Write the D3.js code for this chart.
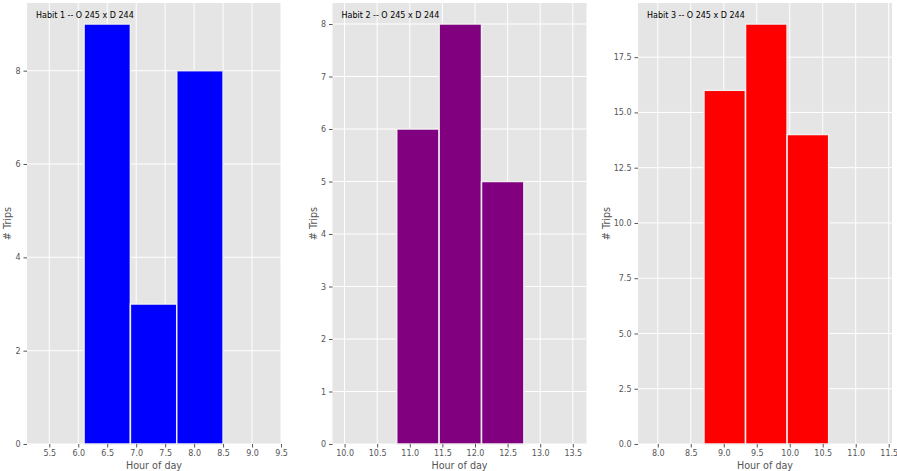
<!DOCTYPE html>
<html>
<head>
<meta charset="utf-8">
<script src="https://cdn.jsdelivr.net/npm/d3@7"></script>
<style>
  body { margin: 0; background: #fff; }
  svg { font-family: 'DejaVu Sans', sans-serif; }
</style>
</head>
<body>
<div id="chart"></div>
<script>
// panel titles
const titles = [
  'Habit 1 -- O 245 x D 244',
  'Habit 2 -- O 245 x D 244',
  'Habit 3 -- O 245 x D 244',
];

// histogram bin edges (hour of day) and trip counts
const edges1 = [6.1, 6.9, 7.7, 8.5];
const counts1 = [9, 3, 8];
const edges2 = [10.8, 11.45, 12.1, 12.75];
const counts2 = [6, 8, 5];
const edges3 = [8.7, 9.33, 9.96, 10.59];
const counts3 = [16, 19, 14];

// axis limits
const xLimits = [[5.115, 9.5], [9.815, 13.71], [7.70, 11.55]];

// tick values
const xTicks1 = [5.5, 6.0, 6.5, 7.0, 7.5, 8.0, 8.5, 9.0, 9.5];
const xTicks2 = [10.0, 10.5, 11.0, 11.5, 12.0, 12.5, 13.0, 13.5];
const xTicks3 = [8.0, 8.5, 9.0, 9.5, 10.0, 10.5, 11.0, 11.5];
const yTicks1 = [0, 2, 4, 6, 8];
const yTicks2 = [0, 1, 2, 3, 4, 5, 6, 7, 8];
const yTicks3 = [0, 2.5, 5, 7.5, 10, 12.5, 15, 17.5];

const colors = ['#0000ff', '#800080', '#ff0000'];

const panels = [
  { edges: edges1, counts: counts1, xTicks: xTicks1, yTicks: yTicks1, yFmt: d3.format('d') },
  { edges: edges2, counts: counts2, xTicks: xTicks2, yTicks: yTicks2, yFmt: d3.format('d') },
  { edges: edges3, counts: counts3, xTicks: xTicks3, yTicks: yTicks3, yFmt: d3.format('.1f') },
];

const width = 897;
const height = 471;
const plotTop = 3;
const plotBottom = 444;
const panelW = 254;
const firstLeft = 27;
const step = 305.5;
const textColor = '#555555';

const svg = d3
  .select('#chart')
  .append('svg')
  .attr('width', width)
  .attr('height', height);

panels.forEach((p, i) => {
  const left = firstLeft + i * step;
  const g = svg.append('g').attr('transform', `translate(${left},${plotTop})`);
  const h = plotBottom - plotTop;

  const x = d3.scaleLinear().domain(xLimits[i]).range([0, panelW]);
  const yMax = d3.max(p.counts) * 1.05;
  const y = d3.scaleLinear().domain([0, yMax]).range([h, 0]);

  g.append('rect')
    .attr('width', panelW)
    .attr('height', h)
    .attr('fill', '#e5e5e5');

  // grid
  g.selectAll('.xgrid')
    .data(p.xTicks)
    .join('line')
    .attr('x1', (d) => x(d))
    .attr('x2', (d) => x(d))
    .attr('y1', 0)
    .attr('y2', h)
    .attr('stroke', '#fff')
    .attr('stroke-width', 1);

  g.selectAll('.ygrid')
    .data(p.yTicks)
    .join('line')
    .attr('x1', 0)
    .attr('x2', panelW)
    .attr('y1', (d) => y(d))
    .attr('y2', (d) => y(d))
    .attr('stroke', '#fff')
    .attr('stroke-width', 1);

  // bars
  g.selectAll('.bar')
    .data(p.counts)
    .join('rect')
    .attr('class', 'bar')
    .attr('x', (d, j) => x(p.edges[j]))
    .attr('width', (d, j) => x(p.edges[j + 1]) - x(p.edges[j]))
    .attr('y', (d) => y(d))
    .attr('height', (d) => h - y(d))
    .attr('fill', colors[i])
    .attr('stroke', '#eeeeee')
    .attr('stroke-width', 1.5);

  // axes
  const xAxis = g
    .append('g')
    .attr('transform', `translate(0,${h})`)
    .call(
      d3.axisBottom(x)
        .tickValues(p.xTicks)
        .tickFormat(d3.format('.1f'))
        .tickSizeInner(3.5)
        .tickSizeOuter(0)
        .tickPadding(3)
    );

  const yAxis = g
    .append('g')
    .call(
      d3.axisLeft(y)
        .tickValues(p.yTicks)
        .tickFormat(p.yFmt)
        .tickSizeInner(3.5)
        .tickSizeOuter(0)
        .tickPadding(3)
    );

  [xAxis, yAxis].forEach((a) => {
    a.select('.domain').remove();
    a.selectAll('line').attr('stroke', textColor);
    a.selectAll('text')
      .attr('fill', textColor)
      .style('font-size', '8px')
      .style('font-family', "'DejaVu Sans', sans-serif");
  });

  // title inside the plot
  g.append('text')
    .attr('x', 9)
    .attr('y', 15)
    .attr('fill', '#000')
    .style('font-size', '8px')
    .text(titles[i]);

  // axis labels
  g.append('text')
    .attr('x', panelW / 2)
    .attr('y', h + 24.5)
    .attr('text-anchor', 'middle')
    .attr('fill', textColor)
    .style('font-size', '9.6px')
    .text('Hour of day');

  let tickW = 0;
  yAxis.selectAll('text').each(function () {
    tickW = Math.max(tickW, this.getBBox().width);
  });

  g.append('text')
    .attr('transform', `translate(${-tickW - 10.5},${h / 2}) rotate(-90)`)
    .attr('text-anchor', 'middle')
    .attr('fill', textColor)
    .style('font-size', '9.6px')
    .text('# Trips');
});
</script>
</body>
</html>
